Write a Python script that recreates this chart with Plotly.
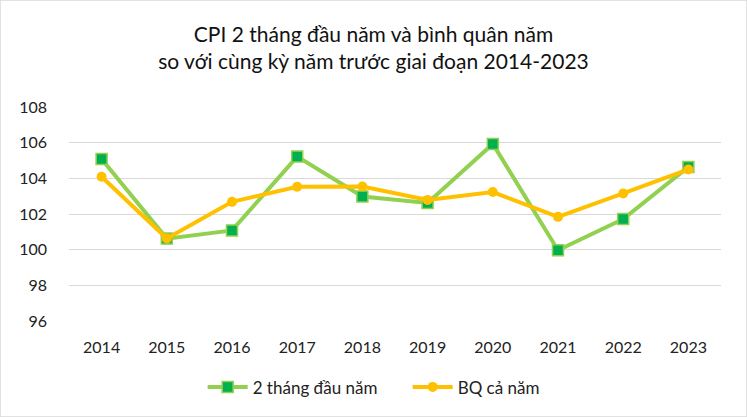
import plotly.graph_objects as go

years = ["2014", "2015", "2016", "2017", "2018", "2019", "2020", "2021", "2022", "2023"]
two_months = [105.08, 100.62, 101.08, 105.22, 102.98, 102.62, 105.93, 99.97, 101.72, 104.64]
annual_avg = [104.09, 100.63, 102.68, 103.53, 103.54, 102.79, 103.23, 101.84, 103.15, 104.50]
y_ticks = [96, 98, 100, 102, 104, 106, 108]

FONT = "Lato, Carlito, Calibri, sans-serif"
TXT = "#222222"

fig = go.Figure()
fig.add_trace(go.Scatter(
    x=years, y=two_months, name="2 tháng đầu năm", mode="lines+markers",
    line=dict(color="#92D050", width=4),
    marker=dict(symbol="square", size=11, color="#00B050", line=dict(color="#92D050", width=1.5)),
))
fig.add_trace(go.Scatter(
    x=years, y=annual_avg, name="BQ cả năm", mode="lines+markers",
    line=dict(color="#FFC000", width=4),
    marker=dict(symbol="circle", size=10, color="#FFC000"),
))

fig.update_layout(
    width=747, height=417,
    margin=dict(l=69, r=26, t=107, b=96),
    paper_bgcolor="white", plot_bgcolor="white",
    font=dict(family=FONT, color=TXT, size=16),
    title=dict(
        text="CPI 2 tháng đầu năm và bình quân năm<br>so với cùng kỳ năm trước giai đoạn 2014-2023",
        x=0.5, xanchor="center", yref="container", y=0.9, yanchor="top",
        font=dict(family=FONT, size=21, color="#111111", lineposition="none"),
    ),
    xaxis=dict(
        type="category", range=[-0.5, 9.5], showgrid=False, zeroline=False, showline=False,
        automargin=False, ticks="", ticklabelstandoff=15, tickfont=dict(size=16, color=TXT),
    ),
    yaxis=dict(
        range=[96, 108], tickvals=y_ticks, showgrid=True, gridcolor="#D9D9D9", gridwidth=1.3,
        zeroline=False, showline=False, ticks="", ticklabelstandoff=21, automargin=False,
        tickfont=dict(size=16, color=TXT),
    ),
    legend=dict(
        orientation="h", x=0.205, xanchor="left", y=-0.31, yanchor="middle",
        font=dict(size=17, color=TXT), itemwidth=40, entrywidth=150, entrywidthmode="pixels",
    ),
    showlegend=True,
)
fig.add_shape(type="rect", xref="paper", yref="paper",
              x0=-69/652, x1=1+26/652, y0=-96/214, y1=1+107/214,
              line=dict(color="#D9D9D9", width=1.5), layer="below")

fig.write_html("out.html")
